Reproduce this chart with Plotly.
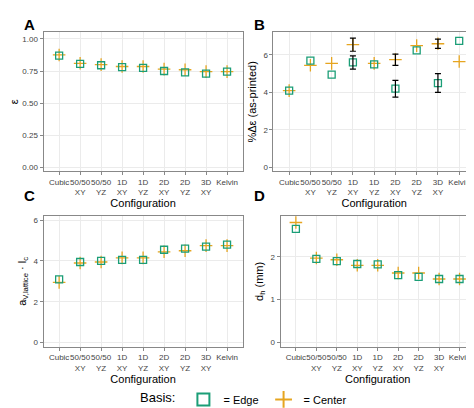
import plotly.graph_objects as go

configs = ["Cubic", "50/50<br>XY", "50/50<br>YZ", "1D<br>XY", "1D<br>YZ", "2D<br>XY", "2D<br>YZ", "3D<br>XY", "Kelvin"]

# A: porosity
eps_edge = [0.87, 0.805, 0.795, 0.78, 0.775, 0.75, 0.74, 0.73, 0.745]
eps_center = [0.875, 0.81, 0.80, 0.785, 0.785, 0.765, 0.76, 0.745, 0.745]

# B: % change in porosity, with error bars on some points
deps_edge = [4.1, 5.7, 4.95, 5.6, 5.5, 4.2, 6.25, 4.5, 6.75]
deps_center = [4.1, 5.45, 5.55, 6.55, 5.55, 5.75, 6.5, 6.6, 5.65]
err_edge_idx = [3, 5, 7]
err_edge = [0.35, 0.45, 0.5]
err_center_idx = [3, 5, 7]
err_center = [0.35, 0.3, 0.25]

# C: surface area * cell size
av_edge = [3.1, 3.95, 4.0, 4.05, 4.05, 4.55, 4.6, 4.7, 4.8]
av_center = [2.95, 3.9, 3.95, 4.15, 4.15, 4.45, 4.5, 4.75, 4.75]

# D: hydraulic diameter
dh_edge = [2.65, 1.95, 1.9, 1.83, 1.82, 1.57, 1.53, 1.48, 1.48]
dh_center = [2.8, 1.97, 1.93, 1.8, 1.8, 1.62, 1.62, 1.48, 1.48]

EDGE = "#1b9e77"
CENTER = "#e6a520"

fig = go.Figure()

panels = [
    ("x", "y", eps_edge, eps_center),
    ("x2", "y2", deps_edge, deps_center),
    ("x3", "y3", av_edge, av_center),
    ("x4", "y4", dh_edge, dh_center),
]

for i, (xa, ya, e, c) in enumerate(panels):
    first = i == 0
    fig.add_trace(go.Scatter(
        x=configs, y=c, xaxis=xa, yaxis=ya, mode="markers", name="= Center",
        legendrank=2, showlegend=first,
        marker=dict(symbol="cross-thin", size=9, line=dict(color=CENTER, width=1.3), color=CENTER)))
    fig.add_trace(go.Scatter(
        x=configs, y=e, xaxis=xa, yaxis=ya, mode="markers", name="= Edge",
        legendrank=1, showlegend=first,
        marker=dict(symbol="square-open", size=7, line=dict(color=EDGE, width=1.3), color=EDGE)))

for idx, err, vals in [(err_edge_idx, err_edge, deps_edge), (err_center_idx, err_center, deps_center)]:
    fig.add_trace(go.Scatter(
        x=[configs[k] for k in idx], y=[vals[k] for k in idx], xaxis="x2", yaxis="y2",
        mode="markers", showlegend=False, marker=dict(opacity=0),
        error_y=dict(type="data", array=err, color="black", thickness=1.2, width=3)))

axis_style = dict(showline=True, mirror=True, linecolor="#888", linewidth=1, gridcolor="#ebebeb",
                  ticks="outside", tickcolor="#888", ticklen=3, zeroline=False, tickangle=0,
                  tickfont=dict(size=8, color="#444"))
xt = dict(text="Configuration", font=dict(size=11), standoff=0)

fig.update_layout(
    width=474, height=408, margin=dict(l=0, r=0, t=0, b=0),
    plot_bgcolor="white", paper_bgcolor="white",
    font=dict(family="Liberation Sans, Arial", color="black"),
    xaxis=dict(domain=[0.075, 0.495], anchor="y", title=xt, **axis_style),
    yaxis=dict(domain=[0.6, 0.94], anchor="x", range=[-0.03, 1.05], tickvals=[0, 0.25, 0.5, 0.75, 1.0],
               ticktext=["0.00", "0.25", "0.50", "0.75", "1.00"], title=dict(text="ε", font=dict(size=11), standoff=4), **axis_style),
    xaxis2=dict(domain=[0.56, 0.985], anchor="y2", title=xt, **axis_style),
    yaxis2=dict(domain=[0.6, 0.94], anchor="x2", range=[-0.2, 7.2], tickvals=[0, 2, 4, 6],
                title=dict(text="%Δε (as-printed)", font=dict(size=11), standoff=4), **axis_style),
    xaxis3=dict(domain=[0.075, 0.495], anchor="y3", title=xt, **axis_style),
    yaxis3=dict(domain=[0.17, 0.49], anchor="x3", range=[-0.2, 6.2], tickvals=[0, 2, 4, 6],
                title=dict(text="a<sub>V,lattice</sub> · l<sub>c</sub>", font=dict(size=11), standoff=4), **axis_style),
    xaxis4=dict(domain=[0.575, 0.985], anchor="y4", title=xt, **axis_style),
    yaxis4=dict(domain=[0.17, 0.49], anchor="x4", range=[-0.1, 2.95], tickvals=[0, 1, 2],
                title=dict(text="d<sub>h</sub> (mm)", font=dict(size=11), standoff=4), **axis_style),
    legend=dict(orientation="h", x=0.5, xanchor="center", y=0.005, yanchor="bottom",
                title=dict(text="Basis:", side="left"), font=dict(size=11), itemsizing="constant",
                itemwidth=30, tracegroupgap=0),
    annotations=[
        dict(text="<b>A</b>", x=0.03, y=0.985, xref="paper", yref="paper", showarrow=False, font=dict(size=15)),
        dict(text="<b>B</b>", x=0.53, y=0.985, xref="paper", yref="paper", showarrow=False, font=dict(size=15)),
        dict(text="<b>C</b>", x=0.03, y=0.54, xref="paper", yref="paper", showarrow=False, font=dict(size=15)),
        dict(text="<b>D</b>", x=0.53, y=0.54, xref="paper", yref="paper", showarrow=False, font=dict(size=15)),
    ],
)

fig.write_html("out.html")
